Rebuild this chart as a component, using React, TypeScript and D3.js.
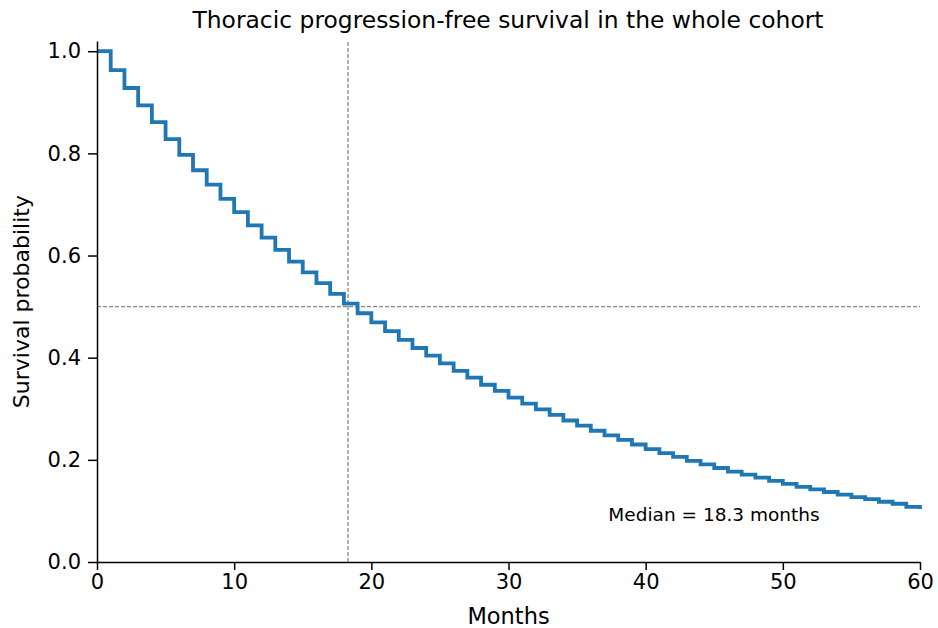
import * as d3 from "d3";
import { useEffect, useRef } from "react";

// survival probability read at each month 0..60 (step after)
const months = d3.range(0, 61);
const survival = [
  1.0, 0.963, 0.928, 0.894, 0.861, 0.828, 0.797, 0.767, 0.739, 0.711,
  0.685, 0.659, 0.635, 0.611, 0.588, 0.567, 0.546, 0.525, 0.506, 0.487,
  0.469, 0.452, 0.435, 0.419, 0.404, 0.389, 0.374, 0.361, 0.347, 0.335,
  0.322, 0.310, 0.299, 0.288, 0.277, 0.267, 0.257, 0.248, 0.239, 0.230,
  0.221, 0.213, 0.206, 0.198, 0.191, 0.184, 0.177, 0.171, 0.165, 0.159,
  0.153, 0.147, 0.142, 0.137, 0.132, 0.127, 0.123, 0.118, 0.114, 0.108,
  0.104,
];
const xTicks = [0, 10, 20, 30, 40, 50, 60];
const yTicks = [0, 0.2, 0.4, 0.6, 0.8, 1.0];
const medianMonths = 18.3;

const width = 938;
const height = 628;
const marginLeft = 97;
const marginRight = 18;
const marginTop = 41;
const marginBottom = 66;
const font = "DejaVu Sans, sans-serif";

const App = () => {
  const svgRef = useRef<SVGSVGElement>(null);

  useEffect(() => {
    const svg = d3.select(svgRef.current);
    svg.selectAll("*").remove();

    const x = d3.scaleLinear([0, 60], [marginLeft, width - marginRight]);
    const y = d3.scaleLinear([0, 1.02], [height - marginBottom, marginTop]);

    svg
      .append("text")
      .attr("x", 508)
      .attr("y", 28)
      .attr("text-anchor", "middle")
      .attr("font-family", font)
      .attr("font-size", 23.4)
      .text("Thoracic progression-free survival in the whole cohort");

    // reference lines
    svg
      .append("line")
      .attr("x1", x(0))
      .attr("x2", x(60))
      .attr("y1", y(0.5))
      .attr("y2", y(0.5))
      .attr("stroke", "#888")
      .attr("stroke-width", 1.3)
      .attr("stroke-dasharray", "4,2");
    svg
      .append("line")
      .attr("x1", x(medianMonths))
      .attr("x2", x(medianMonths))
      .attr("y1", y(0))
      .attr("y2", y(1.02))
      .attr("stroke", "#888")
      .attr("stroke-width", 1.3)
      .attr("stroke-dasharray", "4,2");

    const line = d3
      .line<number>()
      .x((_, i) => x(months[i]))
      .y((d) => y(d))
      .curve(d3.curveStepAfter);
    svg
      .append("path")
      .datum(survival)
      .attr("fill", "none")
      .attr("stroke", "#1f77b4")
      .attr("stroke-width", 3.8)
      .attr("d", line);

    const gx = svg
      .append("g")
      .attr("transform", `translate(0,${height - marginBottom})`)
      .call(
        d3.axisBottom(x).tickValues(xTicks).tickSize(8).tickSizeOuter(0).tickPadding(4)
      );
    const gy = svg
      .append("g")
      .attr("transform", `translate(${marginLeft},0)`)
      .call(
        d3
          .axisLeft(y)
          .tickValues(yTicks)
          .tickFormat(d3.format(".1f"))
          .tickSize(9)
          .tickSizeOuter(0)
          .tickPadding(7)
      );
    [gx, gy].forEach((g) => {
      g.selectAll("text")
        .attr("font-family", font)
        .attr("font-size", 21)
        .attr("fill", "#000");
      g.selectAll("line").attr("stroke", "#000").attr("stroke-width", 1.5);
      g.select(".domain").attr("stroke", "#000").attr("stroke-width", 1.5);
    });

    svg
      .append("text")
      .attr("x", x(30))
      .attr("y", 624)
      .attr("text-anchor", "middle")
      .attr("font-family", font)
      .attr("font-size", 22.5)
      .text("Months");
    svg
      .append("text")
      .attr("transform", `translate(29,${y(0.5) - 5}) rotate(-90)`)
      .attr("text-anchor", "middle")
      .attr("font-family", font)
      .attr("font-size", 22)
      .text("Survival probability");

    svg
      .append("text")
      .attr("x", 714)
      .attr("y", 521)
      .attr("text-anchor", "middle")
      .attr("font-family", font)
      .attr("font-size", 18.5)
      .text(`Median = ${medianMonths} months`);
  }, []);

  return (
    <svg
      ref={svgRef}
      width={width}
      height={height}
      style={{ position: "absolute", left: 0, top: 0, background: "#fff" }}
    />
  );
};

export default App;
